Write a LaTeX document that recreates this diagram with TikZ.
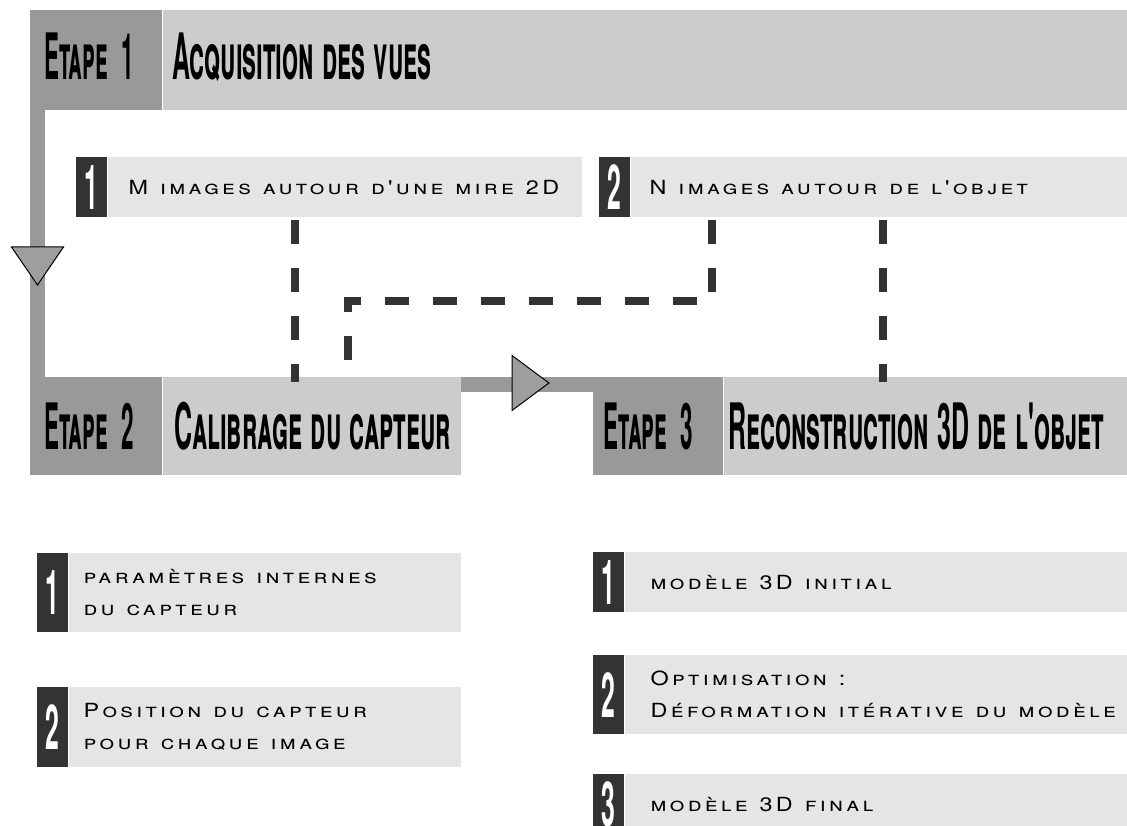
\documentclass[tikz,border=0pt]{standalone}
\usepackage{fontspec}
\newfontfamily\headfont[FakeStretch=0.39,Letters=SmallCaps]{TeX Gyre Heros}
\newfontfamily\etapefont[FakeStretch=0.35,Letters=SmallCaps]{TeX Gyre Heros}
\newfontfamily\numfont[FakeStretch=0.4]{TeX Gyre Heros}
\newfontfamily\subfont[FakeStretch=1.2,LetterSpace=17,Letters=SmallCaps]{TeX Gyre Heros}
\protected\def\headsp{\spaceskip=8.5pt\relax}
\protected\def\etapesp{\spaceskip=14pt\relax}
\protected\def\subsp{\spaceskip=12pt\relax}
\usetikzlibrary{positioning}
\definecolor{stepdark}{gray}{0.6}
\definecolor{steplight}{gray}{0.8}
\definecolor{subdark}{gray}{0.2}
\definecolor{sublight}{gray}{0.9}
\definecolor{trigray}{gray}{0.62}

\begin{document}
\begin{tikzpicture}[x=1pt,y=1pt,
    etape/.style={
        fill=stepdark,
        anchor=north west,
        inner ysep=0pt,
        text height=46pt,
        text depth=0pt,
        align=flush left,
        font=\etapefont\bfseries\fontsize{64}{64}\selectfont\etapesp
    },
    titre/.style={
        fill=steplight,
        inner ysep=0pt,
        text height=46pt,
        text depth=0pt,
        align=flush left,
        font=\headfont\bfseries\fontsize{64}{64}\selectfont\headsp
    },
    num/.style={
        fill=subdark,
        text=white,
        anchor=north west,
        minimum width=31pt,
        inner sep=0pt,
        font=\numfont\bfseries\fontsize{62}{62}\selectfont
    },
    sous/.style={
        fill=sublight,
        inner ysep=0pt,
        align=flush left,
        font=\subfont\fontsize{19.5}{32}\selectfont\subsp
    },
    tiret/.style={draw=subdark, line width=8pt, dash pattern=on 24pt off 24pt},
    pointe/.style={fill=trigray, draw=black, line width=1pt},
    node distance=0pt
    ]
    \useasboundingbox (0,0) rectangle (1127,-826);
    \clip (0,0) rectangle (1127,-826);
    \fill[white] (0,0) rectangle (1127,-826);
    % etapes
    \node[etape, minimum height=100pt, inner xsep=14pt, text width=104pt, text depth=8pt] 
        (e1) at (30,-10) {\mbox{Etape 1}};
    \node[titre, minimum height=100pt, inner xsep=10pt, text width=945pt, text depth=8pt, right=of e1] 
        (t1) {\mbox{Acquisition des vues}};
    \node[etape, minimum height=98pt, inner xsep=14pt, text width=104pt] 
        (e2) at (30,-377) {\mbox{Etape 2}};
    \node[titre, minimum height=98pt, inner xsep=12pt, text width=274pt, right=of e2] 
        (t2) {\mbox{Calibrage du capteur}};
    \node[etape, minimum height=98pt, inner xsep=10pt, text width=110pt] 
        (e3) at (593,-377) {\mbox{Etape 3}};
    \node[titre, minimum height=98pt, inner xsep=5pt, text width=394pt, right=of e3] 
        (t3) {\mbox{Reconstruction 3D de l'objet}};
    % vues
    \node[num, minimum height=60pt] (n1) at (76,-157) {1};
    \node[sous, minimum height=60pt, inner xsep=21pt, text width=432pt, right=of n1] 
        (a1) {\mbox{M images autour d'une mire 2D}};
    \node[num, minimum height=60pt] (n2) at (599,-157) {2};
    \node[sous, minimum height=60pt, inner xsep=19pt, text width=459pt, right=of n2] 
        (a2) {N images autour de l'objet};
    % calibrage
    \node[num, minimum height=79pt] (n3) at (37,-553) {1};
    \node[sous, minimum height=79pt, inner xsep=15pt, text width=362pt, right=of n3] 
        (b1) {paramètres internes\\du capteur};
    \node[num, minimum height=80pt] (n4) at (37,-687) {2};
    \node[sous, minimum height=80pt, inner xsep=15pt, text width=362pt, right=of n4] 
        (b2) {Position du capteur\\pour chaque image};
    % reconstruction
    \node[num, minimum height=60pt] (n5) at (593,-552) {1};
    \node[sous, minimum height=60pt, inner xsep=26pt, text width=451pt, right=of n5] 
        (c1) {modèle 3D initial};
    \node[num, minimum height=79pt] (n6) at (593,-655) {2};
    \node[sous, minimum height=79pt, inner xsep=26pt, text width=451pt, right=of n6] 
        (c2) {Optimisation :\\\mbox{Déformation itérative du modèle}};
    \node[num, minimum height=60pt] (n7) at (593,-774) {3};
    \node[sous, minimum height=60pt, inner xsep=26pt, text width=451pt, right=of n7] 
        (c3) {modèle 3D final};
    % liaisons
    \fill[stepdark] (e1.south west) rectangle ([xshift=15pt]e2.north west);
    \fill[stepdark] (t2.north east) rectangle ([yshift=-15pt]e3.north west);
    \coordinate (d1) at (295,0);
    \coordinate (d2) at (348,0);
    \coordinate (d3) at (712,0);
    \coordinate (d4) at (883,0);
    \coordinate (hy) at (0,-301);
    \draw[tiret, shorten <=3pt, shorten >=-5pt] (a1.south -| d1) -- (t2.north -| d1);
    \draw[tiret, shorten <=3pt, shorten >=-5pt] 
        (a2.south -| d3) -- (hy -| d3) -- (hy -| d2) -- (t2.north -| d2);
    \draw[tiret, shorten <=3pt, shorten >=-5pt] (a2.south -| d4) -- (t3.north -| d4);
    \coordinate (p1) at (37.5,-247);
    \draw[pointe] (p1) ++(-26,0) -- ++(52,0) -- ++(-26,-38) -- cycle;
    \coordinate (p2) at (512,-383);
    \draw[pointe] (p2) ++(0,27.5) -- ++(0,-55) -- ++(37,27.5) -- cycle;
\end{tikzpicture}
\end{document}
